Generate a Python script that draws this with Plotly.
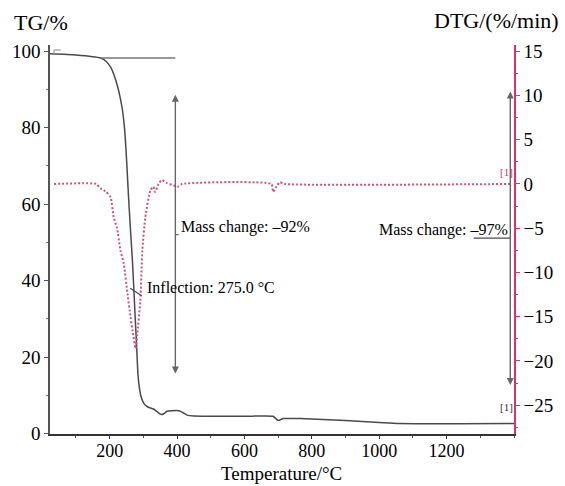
import plotly.graph_objects as go

# ---------------- data ----------------
tg_temp = [23, 100, 173, 190, 203, 214, 224, 232, 238, 244, 250, 256, 262, 268, 272, 276, 280,
           284, 289, 294, 302, 312, 330, 345, 352, 360, 370, 400, 415, 430, 450, 600, 685, 700,
           715, 765, 900, 1000, 1060, 1400]
tg_mass = [99.3, 99.0, 98.2, 97.3, 95.8, 93.5, 90.6, 87.5, 84.6, 80.0, 72.0, 62.0, 53.0, 44.6,
           37.4, 30.0, 23.0, 15.5, 11.5, 9.4, 7.8, 7.0, 6.4, 5.4, 5.0, 5.1, 5.8, 6.0, 5.6, 4.8,
           4.6, 4.5, 4.5, 3.4, 3.9, 3.9, 3.4, 2.9, 2.6, 2.6]

dtg_temp = [35, 160, 173, 190, 203, 212, 222, 232, 242, 253, 262, 268, 277, 282, 291, 297, 306,
            321, 330, 335, 345, 355, 370, 385, 403, 415, 680, 685, 695, 705, 720, 1395]
dtg_rate = [0.0, 0.0, -0.5, -0.9, -1.5, -3.75, -5.0, -7.5, -9.0, -12.4, -15.0, -16.6, -18.6, -17.0,
            -13.2, -7.5, -3.75, -0.7, -0.3, -0.9, 0.0, 0.45, 0.1, -0.1, -0.3, 0.0, 0.0, -0.9, -0.3,
            0.2, 0.0, 0.0]

x_ticks = [200, 400, 600, 800, 1000, 1200]
tg_ticks = [0, 20, 40, 60, 80, 100]
dtg_ticks = [-25, -20, -15, -10, -5, 0, 5, 10, 15]

# annotation values (data units)
onset_line_T = [173, 395]
onset_line_TG = 98.2
arrow1_T = 395
arrow1_TG = [89.0, 15.7]
arrow2_T = 1389
arrow2_TG = [89.8, 12.7]
inflection_T = 271
inflection_TG = 37.4
label_inflection = "Inflection: 275.0 \u00b0C"
label_mc1 = "Mass change: \u201392%"
label_mc2 = "Mass change: \u201397%"

# ---------------- figure ----------------
GREY = "#4a4a4a"
PINK = "#d8346b"
DOT = "#d2527c"
FONT = "Liberation Serif"

fig = go.Figure()
fig.add_trace(go.Scatter(x=tg_temp, y=tg_mass, mode="lines",
                         line=dict(color=GREY, width=1.5, shape="spline", smoothing=0.5),
                         yaxis="y", showlegend=False))
fig.add_trace(go.Scatter(x=dtg_temp, y=dtg_rate, mode="lines",
                         line=dict(color=DOT, width=2, dash="2px,2px", shape="spline", smoothing=0.5),
                         yaxis="y2", showlegend=False))

shapes = [
    dict(type="line", xref="x", yref="y", x0=onset_line_T[0], x1=onset_line_T[1],
         y0=onset_line_TG, y1=onset_line_TG, line=dict(color="#777", width=1.5)),
    # small bracket top-left
    dict(type="line", xref="x", yref="y", x0=35, x1=55, y0=100.3, y1=100.3,
         line=dict(color="#999", width=1.2)),
    dict(type="line", xref="x", yref="y", x0=35, x1=35, y0=99.3, y1=100.3,
         line=dict(color="#999", width=1.2)),
    # inflection marker
    dict(type="line", xref="x", yref="y", x0=inflection_T - 10, x1=inflection_T + 24,
         y0=inflection_TG + 0.6, y1=inflection_TG - 1.4, line=dict(color=GREY, width=1.2)),
    # mass change 1 leader
    dict(type="line", xref="x", yref="y", x0=arrow1_T, x1=arrow1_T + 10, y0=52.0, y1=52.0,
         line=dict(color=GREY, width=1)),
    # mass change 2 underline
    dict(type="line", xref="x", yref="y", x0=1280, x1=1389, y0=51.1, y1=51.1,
         line=dict(color=GREY, width=1.2)),
]

ann = []
for (xt, ys) in [(arrow1_T, arrow1_TG), (arrow2_T, arrow2_TG)]:
    ann.append(dict(x=xt, y=ys[1], ax=xt, ay=ys[0], xref="x", yref="y", axref="x", ayref="y",
                    text="", showarrow=True, arrowhead=2, arrowside="end+start",
                    arrowsize=1, arrowwidth=1.4, arrowcolor="#666"))

ann += [
    dict(x=inflection_T + 35, y=38.3, xref="x", yref="y", text=label_inflection, showarrow=False,
         xanchor="left", yanchor="middle", font=dict(family=FONT, size=16, color="black")),
    dict(x=arrow1_T + 12, y=54.0, xref="x", yref="y", text=label_mc1, showarrow=False,
         xanchor="left", yanchor="middle", font=dict(family=FONT, size=16, color="black")),
    dict(x=1389, y=53.3, xref="x", yref="y", text=label_mc2, showarrow=False,
         xanchor="right", yanchor="middle", font=dict(family=FONT, size=16, color="black")),
    dict(x=1377, y=1.4, xref="x", yref="y2", text="[1]", showarrow=False,
         xanchor="center", yanchor="middle", font=dict(family=FONT, size=11, color=PINK)),
    dict(x=1377, y=6.9, xref="x", yref="y", text="[1]", showarrow=False,
         xanchor="center", yanchor="middle", font=dict(family=FONT, size=11, color="#333")),
    dict(x=-0.081, y=1.059, xref="paper", yref="paper", text="TG/%", showarrow=False,
         xanchor="left", yanchor="middle", font=dict(family=FONT, size=22, color="black")),
    dict(x=1.102, y=1.064, xref="paper", yref="paper", text="DTG/(%/min)", showarrow=False,
         xanchor="right", yanchor="middle", font=dict(family=FONT, size=22, color="black")),
    dict(x=0.499, y=-0.1028, xref="paper", yref="paper", text="Temperature/\u00b0C", showarrow=False,
         xanchor="center", yanchor="middle", font=dict(family=FONT, size=19, color="black")),
]

fig.update_layout(
    width=565, height=486,
    margin=dict(l=49, r=49, t=45, b=52),
    paper_bgcolor="white", plot_bgcolor="white",
    font=dict(family=FONT, size=18, color="black"),
    shapes=shapes, annotations=ann,
    xaxis=dict(range=[23, 1400], tickvals=x_ticks, showgrid=False, zeroline=False,
               showline=True, linecolor="#333", linewidth=1.5, ticks="outside", ticklen=3,
               tickcolor="#333", minor=dict(dtick=100, tick0=0, ticks="outside", ticklen=2,
                                            tickcolor="#555"),
               ticklabelstandoff=-3,
               tickfont=dict(family=FONT, size=18)),
    yaxis=dict(range=[-0.13, 101.6], tickvals=tg_ticks, showgrid=False, zeroline=False,
               showline=True, linecolor="#555", linewidth=1.5, ticks="outside", ticklen=4,
               tickcolor="#555", minor=dict(dtick=10, tick0=0, ticks="outside", ticklen=2,
                                            tickcolor="#777"),
               tickfont=dict(family=FONT, size=19)),
    yaxis2=dict(range=[-28.25, 15.7], tickvals=dtg_ticks, overlaying="y", side="right",
                showgrid=False, zeroline=False, showline=True, linecolor=PINK, linewidth=1.5,
                ticks="outside", ticklen=4, tickcolor=PINK,
                minor=dict(dtick=2.5, tick0=0, ticks="outside", ticklen=2, tickcolor=PINK),
                tickfont=dict(family=FONT, size=19, color="black")),
)

fig.write_html("out.html")
